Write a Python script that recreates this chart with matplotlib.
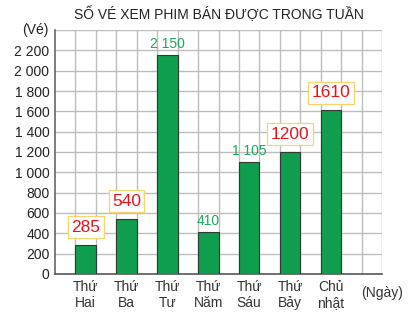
import matplotlib.pyplot as plt

plt.rcParams['font.family'] = ['Liberation Sans', 'DejaVu Sans']

# du lieu
ngay = ['Thứ\nHai', 'Thứ\nBa', 'Thứ\nTư', 'Thứ\nNăm', 'Thứ\nSáu', 'Thứ\nBảy', 'Chủ\nnhật']
so_ve = [285, 540, 2150, 410, 1105, 1200, 1610]
nhan_xanh = ['', '', '2 150', '410', '1 105', '', '']
nhan_do = ['285', '540', '', '', '', '1200', '1610']
y_ticks = list(range(0, 2201, 200))

fig = plt.figure(figsize=(4.10, 3.16), dpi=100)
ax = fig.add_axes([0.134, 0.133, 0.798, 0.772])

xs = [1.5 + 2 * i for i in range(len(ngay))]
ax.set_xlim(0, 16)
ax.set_ylim(0, 2400)

# luoi o vuong
for gx in range(1, 17):
    ax.axvline(gx, color='#bdbdbd', lw=1.0, zorder=0)
for gy in range(200, 2401, 200):
    ax.axhline(gy, color='#bdbdbd', lw=1.0, zorder=0)

ax.bar(xs, so_ve, width=1.0, color='#0f9d4e', edgecolor='#2f3a33', lw=0.8, zorder=3)

for x, v, t in zip(xs, so_ve, nhan_xanh):
    if t:
        ax.text(x, v + 40, t, ha='center', va='bottom', color='#1aa85a', fontsize=10, zorder=4)

for x, v, t in zip(xs, so_ve, nhan_do):
    if t:
        ax.text(x, v + 100, t, ha='center', va='bottom', color='#e8141c', fontsize=12.5, zorder=5,
                bbox=dict(boxstyle='square,pad=0.2', fc='white', ec='#f6d66a', lw=0.9))

ax.set_yticks(y_ticks)
ax.set_yticklabels([f'{v:,}'.replace(',', ' ') for v in y_ticks], fontsize=10, color='#222222')
ax.set_xticks(xs)
ax.set_xticklabels(ngay, fontsize=10, color='#333333', linespacing=1.2)
ax.tick_params(length=0, pad=4)

for s in ['top', 'right']:
    ax.spines[s].set_visible(False)
ax.spines['left'].set_color('#666666')
ax.spines['bottom'].set_color('#555555')
ax.spines['left'].set_linewidth(1.2)
ax.spines['bottom'].set_linewidth(1.2)

ax.text(-0.02, 2400, '(Vé)', ha='right', va='center', fontsize=10, color='#222222',
        transform=ax.get_yaxis_transform())
ax.text(16, -115, '(Ngày)', ha='center', va='top', fontsize=10, color='#333333')

fig.text(0.535, 0.955, 'SỐ VÉ XEM PHIM BÁN ĐƯỢC TRONG TUẦN', ha='center', va='center',
         fontsize=10, color='#222222')

fig.savefig('out.png', dpi=100)
